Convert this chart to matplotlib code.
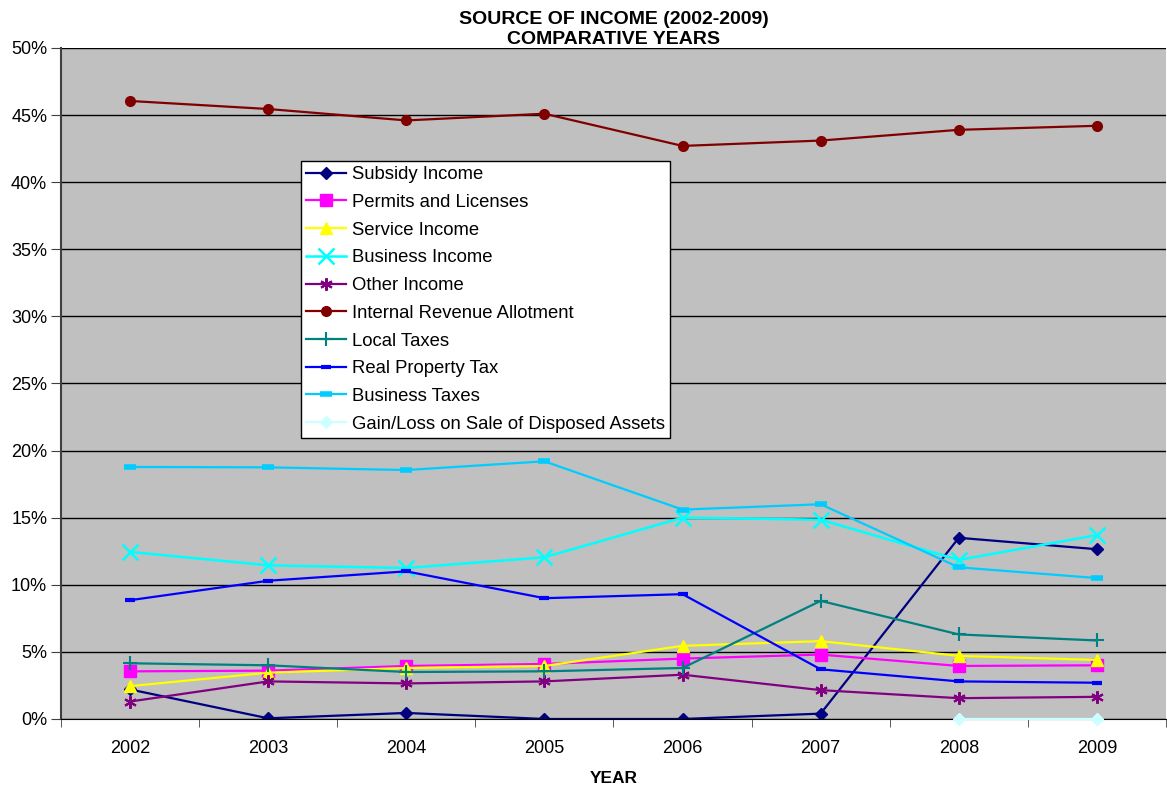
# Source of income 2002-2009, comparative years
import matplotlib.pyplot as plt
from matplotlib.ticker import FixedLocator, PercentFormatter

plt.rcParams['font.family'] = ['Liberation Sans', 'DejaVu Sans']

years = ['2002', '2003', '2004', '2005', '2006', '2007', '2008', '2009']

subsidy = [2.2, 0.05, 0.45, 0.0, 0.0, 0.4, 13.5, 12.65]
permits = [3.55, 3.6, 3.95, 4.1, 4.5, 4.8, 3.95, 4.0]
service = [2.45, 3.45, 3.8, 3.95, 5.45, 5.8, 4.7, 4.4]
business_income = [12.45, 11.45, 11.25, 12.05, 15.0, 14.85, 11.85, 13.7]
other = [1.3, 2.8, 2.65, 2.8, 3.3, 2.15, 1.55, 1.65]
ira = [46.05, 45.45, 44.6, 45.1, 42.7, 43.1, 43.9, 44.2]
local_taxes = [4.15, 4.0, 3.5, 3.55, 3.8, 8.8, 6.3, 5.85]
real_property = [8.85, 10.3, 11.0, 9.0, 9.3, 3.7, 2.8, 2.7]
business_taxes = [18.78, 18.75, 18.55, 19.2, 15.6, 16.0, 11.3, 10.5]
gain_loss = [None, None, None, None, None, None, 0.0, 0.0]

x = list(range(len(years)))

fig = plt.figure(figsize=(11.67, 7.9), dpi=100)
ax = fig.add_axes([0.0523, 0.0899, 0.9468, 0.8494])
ax.set_facecolor('#C0C0C0')

ax.plot(x, subsidy, color='#000080', marker='D', ms=6, lw=1.6, label='Subsidy Income')
ax.plot(x, permits, color='#FF00FF', marker='s', ms=8, lw=1.6, label='Permits and Licenses')
ax.plot(x, service, color='#FFFF00', marker='^', ms=9, lw=1.6, label='Service Income')
ax.plot(x, business_income, color='#00FFFF', marker='x', ms=11, mew=1.8, lw=1.8, label='Business Income')
ax.plot(x, other, color='#800080', marker=(6, 2, 0), ms=9, mew=1.5, lw=1.6, label='Other Income')
ax.plot(x, ira, color='#800000', marker='o', ms=7, lw=1.6, label='Internal Revenue Allotment')
ax.plot(x, local_taxes, color='#008080', marker='+', ms=10, mew=1.5, lw=1.6, label='Local Taxes')
ax.plot(x, real_property, color='#0000FF', marker='_', ms=7, mew=3, lw=1.6, label='Real Property Tax')
ax.plot(x, business_taxes, color='#00CCFF', marker='_', ms=9, mew=4, lw=1.6, label='Business Taxes')
gx = [i for i, v in zip(x, gain_loss) if v is not None]
gy = [v for v in gain_loss if v is not None]
ax.plot(gx, gy, color='#CCFFFF', marker='D', ms=6, lw=1.6, label='Gain/Loss on Sale of Disposed Assets',
        clip_on=False, zorder=5)

ax.set_xlim(-0.5, 7.5)
ax.set_ylim(0, 50)
ax.set_yticks(range(0, 51, 5))
ax.yaxis.set_major_formatter(PercentFormatter(decimals=0))
ax.grid(axis='y', color='black', lw=1)
ax.set_axisbelow(True)

ax.set_xticks(x)
ax.set_xticklabels(years)
ax.xaxis.set_minor_locator(FixedLocator([i - 0.5 for i in range(len(years) + 1)]))
ax.tick_params(axis='x', which='major', length=0, pad=15, labelsize=13)
ax.tick_params(axis='x', which='minor', length=6, color='#404040')
ax.tick_params(axis='y', length=7, color='#404040', labelsize=13, pad=3)

for s in ['top', 'right']:
    ax.spines[s].set_visible(False)
ax.spines['left'].set_color('#404040')
ax.spines['left'].set_linewidth(1.5)
ax.spines['bottom'].set_color('black')

ax.set_xlabel('YEAR', fontweight='bold', fontsize=12.5, labelpad=10)
ax.set_title('SOURCE OF INCOME (2002-2009)\nCOMPARATIVE YEARS', fontweight='bold', fontsize=14,
             linespacing=1.2, pad=3)

leg = ax.legend(loc='upper left', bbox_to_anchor=(0.217, 0.832), fontsize=13.3,
                fancybox=False, framealpha=1, edgecolor='black', borderpad=0.3,
                labelspacing=0.58, handlelength=2.15, handletextpad=0.3, borderaxespad=0)
leg.get_frame().set_linewidth(1)

plt.savefig('out.png', dpi=100)
